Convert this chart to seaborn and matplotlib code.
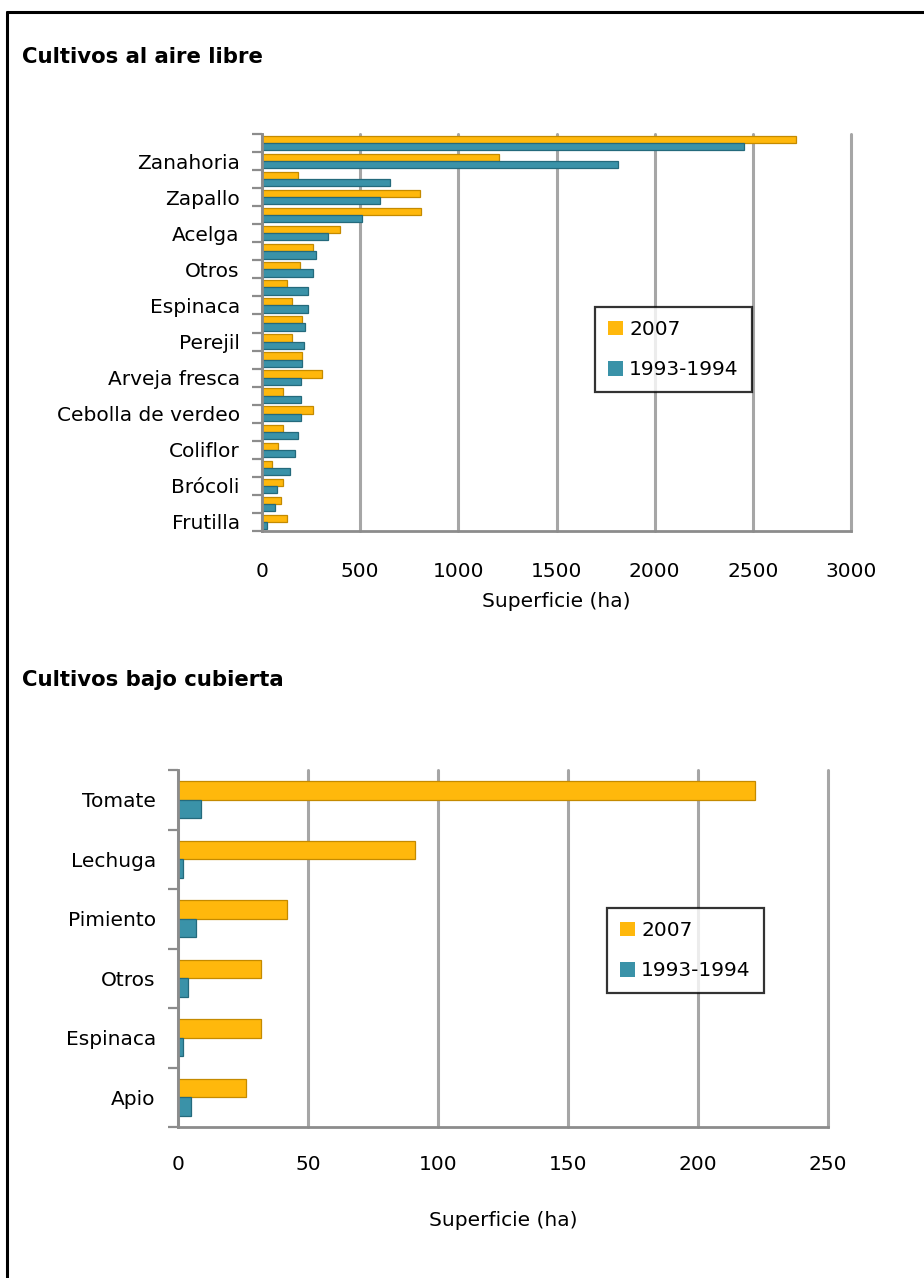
import matplotlib
matplotlib.use("Agg")
import matplotlib.pyplot as plt
from matplotlib.lines import Line2D
from matplotlib.patches import Patch
import seaborn as sns
import pandas as pd

# cultivos al aire libre (solo se rotula una de cada dos categorías, como en el original)
cultivos_aire = ["Lechuga", "Zanahoria", "Papa", "Zapallo", "Tomate", "Acelga",
                 "Repollo", "Otros", "Remolacha", "Espinaca", "Apio", "Perejil",
                 "Choclo", "Arveja fresca", "Puerro", "Cebolla de verdeo",
                 "Radicheta", "Coliflor", "Haba", "Brócoli", "Rúcula", "Frutilla"]
aire_2007 = [2720, 1205, 184, 805, 809, 398, 258, 195, 127, 154, 205,
             154, 205, 307, 109, 258, 109, 82, 53, 109, 96, 127]
aire_1993 = [2455, 1814, 652, 600, 508, 334, 275, 262, 236, 236, 217,
             213, 203, 197, 197, 197, 184, 166, 145, 74, 68, 25]
aire_ticks = [0, 500, 1000, 1500, 2000, 2500, 3000]

# cultivos bajo cubierta
cultivos_cub = ["Tomate", "Lechuga", "Pimiento", "Otros", "Espinaca", "Apio"]
cub_2007 = [222, 91, 42, 32, 32, 26]
cub_1993 = [9, 2, 7, 4, 2, 5]
cub_ticks = [0, 50, 100, 150, 200, 250]

series = ["2007", "1993-1994"]
colors = {"2007": "#FFB80C", "1993-1994": "#3A92A8"}
edges = {"2007": "#C48A00", "1993-1994": "#246A7C"}


def long_df(cats, a, b):
    return pd.DataFrame({
        "cultivo": cats * 2,
        "serie": [series[0]] * len(cats) + [series[1]] * len(cats),
        "ha": a + b,
    })


sns.set_theme(style="white")
plt.rcParams["font.family"] = ["DejaVu Sans"]
plt.rcParams["text.color"] = "black"
plt.rcParams["xtick.color"] = "black"
plt.rcParams["ytick.color"] = "black"
plt.rcParams["axes.labelcolor"] = "black"

W, H = 924, 1278
fig = plt.figure(figsize=(W / 100, H / 100), dpi=100)


def fx(px):
    return px / W


def fy(py):
    return 1 - py / H


def draw(ax, df, ticks, width, tick_labels, xpad, labelpad, legend_xy):
    sns.barplot(data=df, x="ha", y="cultivo", hue="serie", hue_order=series,
                palette=colors, saturation=1, orient="h", width=width, ax=ax,
                legend=False, linewidth=0.9)
    n = len(df) // 2
    for bars, s in zip(ax.containers, series):
        for p in bars:
            p.set_edgecolor(edges[s])
    ax.set_xlim(ticks[0], ticks[-1])
    ax.set_ylim(n - 0.5, -0.5)
    ax.set_xticks(ticks)
    ax.set_xticklabels([str(t) for t in ticks], fontsize=14.5)
    ax.set_yticks(range(n))
    ax.set_yticklabels(tick_labels, fontsize=14.5)
    ax.set_yticks([k + 0.5 for k in range(-1, n)], minor=True)
    ax.tick_params(axis="y", which="major", length=0, pad=16)
    ax.tick_params(axis="y", which="minor", length=7, width=1.6,
                   color="#8C8C8C", left=True)
    ax.tick_params(axis="x", length=0, pad=xpad)
    ax.grid(axis="x", color="#A6A6A6", linewidth=2.2)
    ax.grid(axis="y", visible=False)
    for gl in ax.get_xgridlines():
        gl.set_clip_on(False)
    ax.set_axisbelow(True)
    for side in ["top", "right"]:
        ax.spines[side].set_visible(False)
    for side in ["left", "bottom"]:
        ax.spines[side].set_color("#8C8C8C")
        ax.spines[side].set_linewidth(2)
    ax.set_ylabel("")
    ax.set_xlabel("Superficie (ha)", fontsize=14.5, labelpad=labelpad)
    handles = [Patch(facecolor=colors[s], edgecolor="none") for s in series]
    leg = fig.legend(handles, series, loc="upper left",
                     bbox_to_anchor=(fx(legend_xy[0]), fy(legend_xy[1])),
                     fontsize=14.5, frameon=True, fancybox=False,
                     handlelength=0.75, handleheight=0.75, handletextpad=0.3,
                     labelspacing=1.05, borderpad=0.65, borderaxespad=0)
    leg.get_frame().set_edgecolor("black")
    leg.get_frame().set_linewidth(1.6)


# gráfico superior
ax1 = fig.add_axes([fx(262), fy(531), fx(851 - 262), (531 - 134) / H])
labels_aire = [c if i % 2 == 1 else "" for i, c in enumerate(cultivos_aire)]
draw(ax1, long_df(cultivos_aire, aire_2007, aire_1993), aire_ticks, 0.8,
     labels_aire, 22, 8, (595, 307))

# gráfico inferior
ax2 = fig.add_axes([fx(178), fy(1127), fx(828 - 178), (1127 - 770) / H])
draw(ax2, long_df(cultivos_cub, cub_2007, cub_1993), cub_ticks, 0.62,
     cultivos_cub, 20, 27, (607, 908))

fig.text(fx(22), fy(57), "Cultivos al aire libre", fontsize=15.3,
         fontweight="bold", va="center", ha="left")
fig.text(fx(22), fy(680), "Cultivos bajo cubierta", fontsize=15.3,
         fontweight="bold", va="center", ha="left")

# marco exterior
fig.add_artist(Line2D([fx(7), fx(7)], [fy(12), 0], color="black",
                      linewidth=2.2, transform=fig.transFigure))
fig.add_artist(Line2D([fx(7), 1], [fy(12), fy(12)], color="black",
                      linewidth=2.2, transform=fig.transFigure))

fig.savefig("out.png", dpi=100)
